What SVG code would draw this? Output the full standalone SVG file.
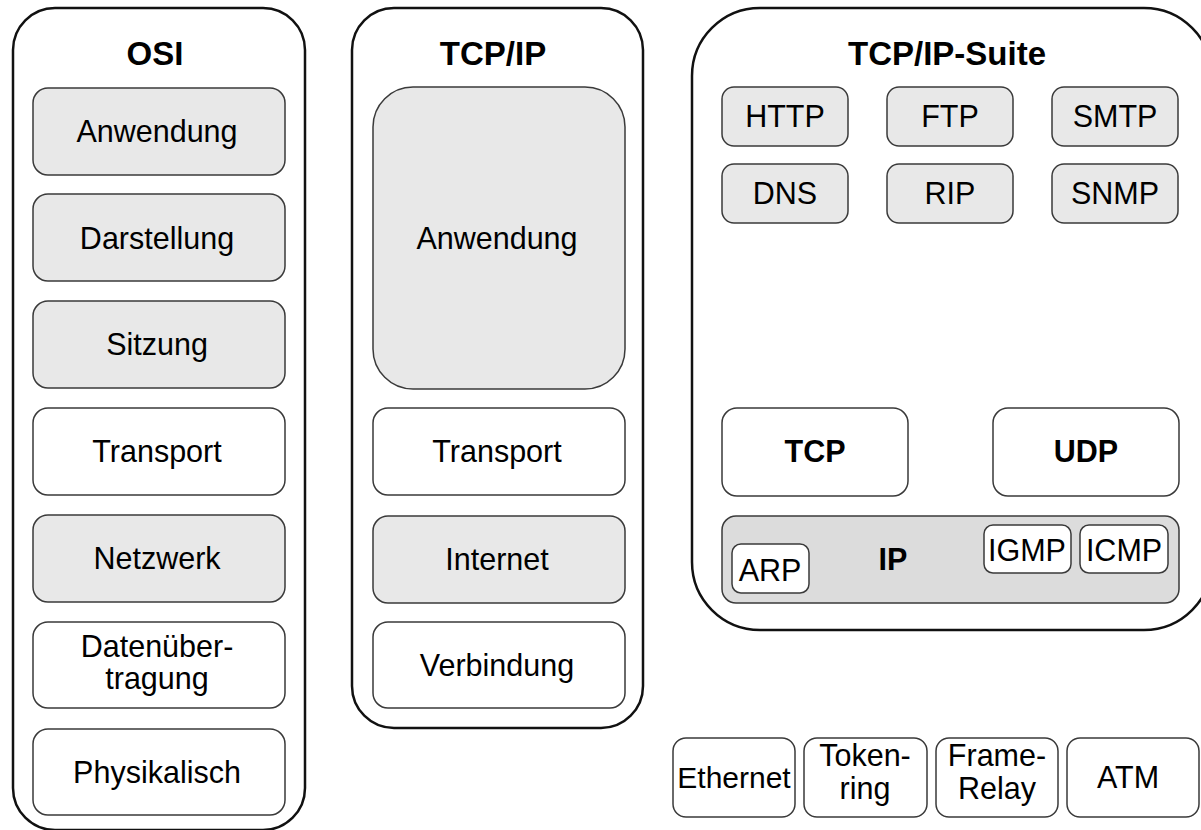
<svg xmlns="http://www.w3.org/2000/svg" width="1201" height="830" viewBox="0 0 1201 830">
  <style>
    .frame { fill: #ffffff; stroke: #111111; stroke-width: 2.5; }
    .box { stroke: #3a3a3a; stroke-width: 1.5; }
    .grey { fill: #e8e8e8; }
    .white { fill: #ffffff; }
    .ipbar { fill: #dcdcdc; }
    text { font-family: "Liberation Sans", Arial, sans-serif; fill: #000000; text-anchor: middle; }
    .title { font-size: 33px; font-weight: bold; }
    .lbl { font-size: 30.5px; }
    .bold { font-size: 30.5px; font-weight: bold; }
  </style>
  <rect width="1201" height="830" fill="#ffffff"/>

  <!-- OSI reference model -->
  <g id="osi">
    <rect class="frame" x="13" y="8" width="292" height="822" rx="42"/>
    <text class="title" x="155" y="65">OSI</text>
    <g id="osi-anwendung"><rect class="box grey" x="33" y="88" width="252" height="87" rx="15"/><text class="lbl" x="157" y="142">Anwendung</text></g>
    <g id="osi-darstellung"><rect class="box grey" x="33" y="194" width="252" height="87" rx="15"/><text class="lbl" x="157" y="249">Darstellung</text></g>
    <g id="osi-sitzung"><rect class="box grey" x="33" y="301" width="252" height="87" rx="15"/><text class="lbl" x="157" y="355">Sitzung</text></g>
    <g id="osi-transport"><rect class="box white" x="33" y="408" width="252" height="87" rx="15"/><text class="lbl" x="157" y="462">Transport</text></g>
    <g id="osi-netzwerk"><rect class="box grey" x="33" y="515" width="252" height="87" rx="15"/><text class="lbl" x="157" y="569">Netzwerk</text></g>
    <g id="osi-datenuebertragung"><rect class="box white" x="33" y="622" width="252" height="86" rx="15"/><text class="lbl" x="157" y="657">Datenüber-</text><text class="lbl" x="157" y="689">tragung</text></g>
    <g id="osi-physikalisch"><rect class="box white" x="33" y="729" width="252" height="86" rx="15"/><text class="lbl" x="157" y="783">Physikalisch</text></g>
  </g>

  <!-- TCP/IP model -->
  <g id="tcpip">
    <rect class="frame" x="352" y="8" width="291" height="720" rx="42"/>
    <text class="title" x="493" y="65">TCP/IP</text>
    <g id="tcpip-anwendung"><rect class="box grey" x="373" y="87" width="252" height="302" rx="40"/><text class="lbl" x="497" y="249">Anwendung</text></g>
    <g id="tcpip-transport"><rect class="box white" x="373" y="408" width="252" height="87" rx="15"/><text class="lbl" x="497" y="462">Transport</text></g>
    <g id="tcpip-internet"><rect class="box grey" x="373" y="516" width="252" height="87" rx="15"/><text class="lbl" x="497" y="570">Internet</text></g>
    <g id="tcpip-verbindung"><rect class="box white" x="373" y="622" width="252" height="86" rx="15"/><text class="lbl" x="497" y="676">Verbindung</text></g>
  </g>

  <!-- TCP/IP protocol suite -->
  <g id="suite">
    <rect class="frame" x="692" y="8" width="520" height="622" rx="68"/>
    <text class="title" x="947" y="65">TCP/IP-Suite</text>
    <g id="http"><rect class="box grey" x="722" y="87" width="126" height="59" rx="12"/><text class="lbl" x="785" y="127">HTTP</text></g>
    <g id="ftp"><rect class="box grey" x="887" y="87" width="126" height="59" rx="12"/><text class="lbl" x="950" y="127">FTP</text></g>
    <g id="smtp"><rect class="box grey" x="1052" y="87" width="126" height="59" rx="12"/><text class="lbl" x="1115" y="127">SMTP</text></g>
    <g id="dns"><rect class="box grey" x="722" y="164" width="126" height="59" rx="12"/><text class="lbl" x="785" y="204">DNS</text></g>
    <g id="rip"><rect class="box grey" x="887" y="164" width="126" height="59" rx="12"/><text class="lbl" x="950" y="204">RIP</text></g>
    <g id="snmp"><rect class="box grey" x="1052" y="164" width="126" height="59" rx="12"/><text class="lbl" x="1115" y="204">SNMP</text></g>
    <g id="tcp"><rect class="box white" x="722" y="408" width="186" height="88" rx="15"/><text class="bold" x="815" y="462">TCP</text></g>
    <g id="udp"><rect class="box white" x="993" y="408" width="186" height="88" rx="15"/><text class="bold" x="1086" y="462">UDP</text></g>
    <g id="ip">
      <rect class="box ipbar" x="722" y="516" width="457" height="87" rx="14"/>
      <text class="bold" x="893" y="570">IP</text>
      <g id="arp"><rect class="box white" x="732" y="544" width="77" height="49" rx="9"/><text class="lbl" x="770" y="581">ARP</text></g>
      <g id="igmp"><rect class="box white" x="984" y="525" width="87" height="48" rx="9"/><text class="lbl" x="1027" y="561">IGMP</text></g>
      <g id="icmp"><rect class="box white" x="1080" y="525" width="88" height="48" rx="9"/><text class="lbl" x="1124" y="561">ICMP</text></g>
    </g>
  </g>

  <!-- link-layer technologies -->
  <g id="ethernet"><rect class="box white" x="673" y="738" width="122" height="79" rx="13"/><text class="lbl" x="734" y="788" style="font-size:30px">Ethernet</text></g>
  <g id="tokenring"><rect class="box white" x="804" y="738" width="123" height="79" rx="13"/><text class="lbl" x="865" y="766">Token-</text><text class="lbl" x="865" y="799">ring</text></g>
  <g id="framerelay"><rect class="box white" x="936" y="738" width="122" height="79" rx="13"/><text class="lbl" x="997" y="766">Frame-</text><text class="lbl" x="997" y="799">Relay</text></g>
  <g id="atm"><rect class="box white" x="1067" y="738" width="132" height="79" rx="13"/><text class="lbl" x="1128" y="788">ATM</text></g>

  <!-- no connectors in this diagram -->
  <g id="connectors"/>
</svg>
